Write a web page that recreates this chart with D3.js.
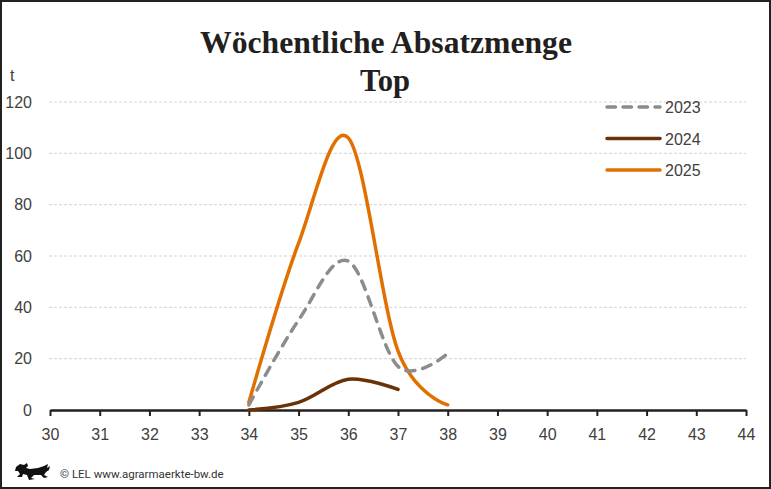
<!DOCTYPE html>
<html><head><meta charset="utf-8">
<script src="https://cdn.jsdelivr.net/npm/d3@7"></script>
<style>
html,body{margin:0;padding:0;background:#fff;}
svg{display:block;}
</style></head>
<body>
<script>
const weeks = [30,31,32,33,34,35,36,37,38,39,40,41,42,43,44];
const yTicks = [0,20,40,60,80,100,120];
const seriesNames = ["2023","2024","2025"];
const weeks2023 = [34,35,36,37,38];
const values2023 = [2,35,58,17,22];
const weeks2024 = [34,35,36,37];
const values2024 = [0,3,12,8];
const weeks2025 = [34,35,36,37,38];
const values2025 = [3,65,106,23,2];
const colors = ["#8c8c8c","#6a3206","#e07000"];

const W=771,H=489;
const svg=d3.select("body").append("svg").attr("width",W).attr("height",H);
svg.append("rect").attr("x",1).attr("y",1).attr("width",W-2).attr("height",H-2).attr("fill","#fff").attr("stroke","#222").attr("stroke-width",2);

const sans="'Liberation Sans',Arial,sans-serif";
const serif="'Liberation Serif','DejaVu Serif',serif";
const x=d3.scaleLinear().domain([30,44]).range([50,746]);
const y=d3.scaleLinear().domain([0,120]).range([410,102]);

// title
svg.append("text").attr("x",386).attr("y",53).attr("text-anchor","middle")
  .attr("font-family",serif).attr("font-weight","bold").attr("font-size",31).attr("fill","#231f20")
  .attr("textLength",372).attr("lengthAdjust","spacingAndGlyphs")
  .text("Wöchentliche Absatzmenge");
svg.append("text").attr("x",385).attr("y",91).attr("text-anchor","middle")
  .attr("font-family",serif).attr("font-weight","bold").attr("font-size",31).attr("fill","#231f20")
  .attr("textLength",50).attr("lengthAdjust","spacingAndGlyphs")
  .text("Top");

// unit
svg.append("text").attr("x",10).attr("y",81).attr("font-family",sans).attr("font-size",16).attr("fill","#404040").text("t");

// grid
svg.append("g").selectAll("line").data(yTicks.filter(d=>d>0)).join("line")
  .attr("x1",49).attr("x2",746).attr("y1",d=>y(d)).attr("y2",d=>y(d))
  .attr("stroke","#d4d4d4").attr("stroke-width",1).attr("stroke-dasharray","3,2");

// y axis labels
const ya=svg.append("g").attr("transform","translate(32,0)")
  .call(d3.axisLeft(y).tickValues(yTicks).tickSize(0).tickPadding(0));
ya.select(".domain").remove();
ya.selectAll("text").attr("font-family",sans).attr("font-size",16).attr("fill","#404040");

// x axis
const xa=svg.append("g").attr("transform","translate(0,410)")
  .call(d3.axisBottom(x).tickValues(weeks).tickFormat(d3.format("d")).tickSize(6).tickSizeOuter(0).tickPadding(13));
xa.select(".domain").attr("stroke","#231f20").attr("stroke-width",2.5);
xa.selectAll(".tick line").attr("stroke","#231f20").attr("stroke-width",2);
xa.selectAll("text").attr("font-family",sans).attr("font-size",16).attr("fill","#404040");

// lines
const line=d3.line().x(d=>x(d[0])).y(d=>y(d[1])).curve(d3.curveCatmullRom.alpha(0));
const data=[d3.zip(weeks2023,values2023),d3.zip(weeks2024,values2024),d3.zip(weeks2025,values2025)];
const dashes=["9,8",null,null];
const g=svg.append("g");
[2,1,0].forEach(i=>{
  g.append("path").attr("d",line(data[i])).attr("fill","none").attr("stroke",colors[i])
   .attr("stroke-width",3.5).attr("stroke-linecap","round").attr("stroke-dasharray",dashes[i]);
});

// legend
const lg=svg.append("g");
seriesNames.forEach((n,i)=>{
  const yy=107+i*31.5;
  lg.append("line").attr("x1",607).attr("x2",660).attr("y1",yy).attr("y2",yy)
    .attr("stroke",colors[i]).attr("stroke-width",3.5).attr("stroke-linecap","round").attr("stroke-dasharray",dashes[i]?"8.5,7.5":null);
  lg.append("text").attr("x",665).attr("y",yy+6).attr("font-family",sans).attr("font-size",16).attr("fill","#404040").text(n);
});

// footer
const lion=svg.append("g").attr("transform","translate(14,463)");
lion.append("path").attr("fill","#111").attr("d",
 "M2,4 L6,1 L10,2 L13,0 L14,3 L12,5 L16,6 L24,5 L30,3 L34,1 L33,5 L36,3 L35,7 L32,9 L30,12 L34,14 L30,15 L27,12 L20,12 L17,15 L21,16 L15,17 L13,12 L9,11 L8,14 L3,14 L6,11 L4,8 L1,8 Z");
svg.append("text").attr("x",60).attr("y",478).attr("font-family","Roboto,'Liberation Sans',sans-serif").attr("font-size",11.5).attr("fill","#333")
  .text("© LEL www.agrarmaerkte-bw.de");
</script>
</body></html>
